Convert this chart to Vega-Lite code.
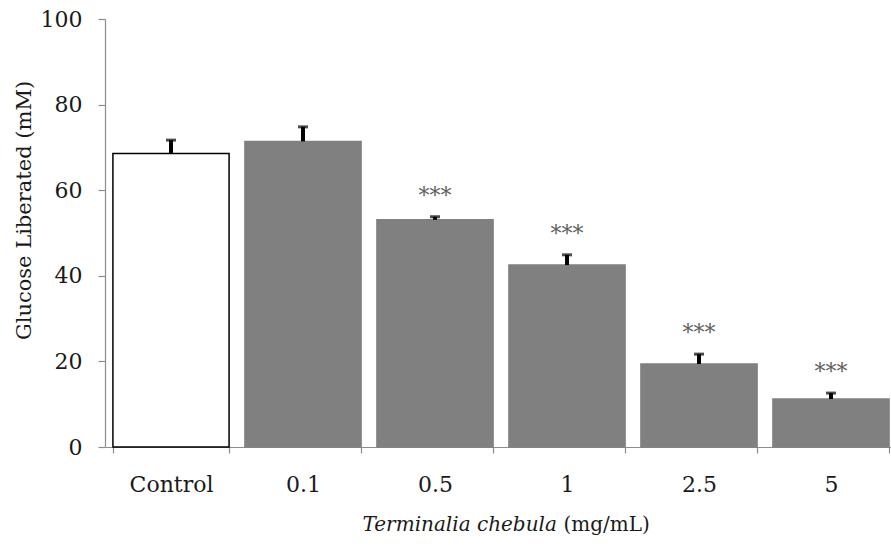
{
  "$schema": "https://vega.github.io/schema/vega-lite/v6.json",
  "width": 786,
  "height": 428,
  "autosize": "none",
  "padding": {"left": 105, "top": 19, "right": 0, "bottom": 101},
  "background": "white",
  "config": {
    "view": {"stroke": null},
    "axis": {
      "domainColor": "#8c8c8c",
      "domainWidth": 1.2,
      "tickColor": "#8c8c8c",
      "tickWidth": 1.2,
      "grid": false,
      "labelFont": "DejaVu Serif",
      "labelFontSize": 22,
      "labelColor": "#1a1a1a",
      "titleFont": "DejaVu Serif",
      "titleFontWeight": "normal",
      "titleColor": "#1a1a1a"
    }
  },
  "data": {
    "values": [
      {"dose": "Control", "group": "control", "mean": 68.6, "upper": 71.7, "sig": ""},
      {"dose": "0.1", "group": "treated", "mean": 71.4, "upper": 74.8, "sig": ""},
      {"dose": "0.5", "group": "treated", "mean": 53.1, "upper": 53.8, "sig": "***"},
      {"dose": "1", "group": "treated", "mean": 42.5, "upper": 44.9, "sig": "***"},
      {"dose": "2.5", "group": "treated", "mean": 19.4, "upper": 21.7, "sig": "***"},
      {"dose": "5", "group": "treated", "mean": 11.2, "upper": 12.6, "sig": "***"}
    ]
  },
  "layer": [
    {
      "mark": {"type": "bar", "strokeWidth": 1.5},
      "encoding": {
        "x": {
          "field": "dose", "type": "nominal", "sort": null,
          "scale": {"range": [0, 792], "paddingInner": 0.12, "paddingOuter": 0.06},
          "axis": {
            "orient": "bottom",
            "labelAngle": 0,
            "tickBand": "extent",
            "tickSize": 6,
            "labelPadding": 21,
            "title": "Terminalia chebula",
            "titleFontStyle": "italic",
            "titleFontSize": 20,
            "titleAlign": "left",
            "titleBaseline": "alphabetic",
            "titleX": 257,
            "titleY": 83
          }
        },
        "y": {
          "field": "mean", "type": "quantitative",
          "scale": {"domain": [0, 100], "nice": false},
          "axis": {
            "values": [0, 20, 40, 60, 80, 100],
            "tickSize": 7,
            "labelPadding": 16,
            "title": "Glucose Liberated (mM)",
            "titleFontSize": 21,
            "titleAngle": -90,
            "titleAlign": "center",
            "titleBaseline": "middle",
            "titleX": -81,
            "titleY": 191
          }
        },
        "fill": {
          "field": "group", "type": "nominal",
          "scale": {"domain": ["control", "treated"], "range": ["#ffffff", "#808080"]},
          "legend": null
        },
        "stroke": {
          "field": "group", "type": "nominal",
          "scale": {"domain": ["control", "treated"], "range": ["#000000", "#808080"]},
          "legend": null
        }
      }
    },
    {
      "mark": {"type": "rule", "color": "#000000", "strokeWidth": 4},
      "encoding": {
        "x": {"field": "dose", "type": "nominal", "sort": null, "axis": null},
        "y": {"field": "mean", "type": "quantitative"},
        "y2": {"field": "upper"}
      }
    },
    {
      "mark": {"type": "tick", "color": "#000000", "size": 10, "thickness": 3, "orient": "horizontal"},
      "encoding": {
        "x": {
          "field": "dose", "type": "nominal", "sort": null,
          "axis": {
            "orient": "bottom",
            "labels": false,
            "ticks": false,
            "domain": false,
            "title": "(mg/mL)",
            "titleFontSize": 20,
            "titleAlign": "left",
            "titleBaseline": "alphabetic",
            "titleX": 458,
            "titleY": 83
          }
        },
        "y": {"field": "upper", "type": "quantitative"}
      }
    },
    {
      "mark": {"type": "text", "font": "DejaVu Serif", "fontSize": 22, "color": "#606060", "baseline": "middle", "dy": -21},
      "encoding": {
        "x": {"field": "dose", "type": "nominal", "sort": null, "axis": null},
        "y": {"field": "upper", "type": "quantitative"},
        "text": {"field": "sig"}
      }
    }
  ],
  "resolve": {"axis": {"x": "independent"}}
}
